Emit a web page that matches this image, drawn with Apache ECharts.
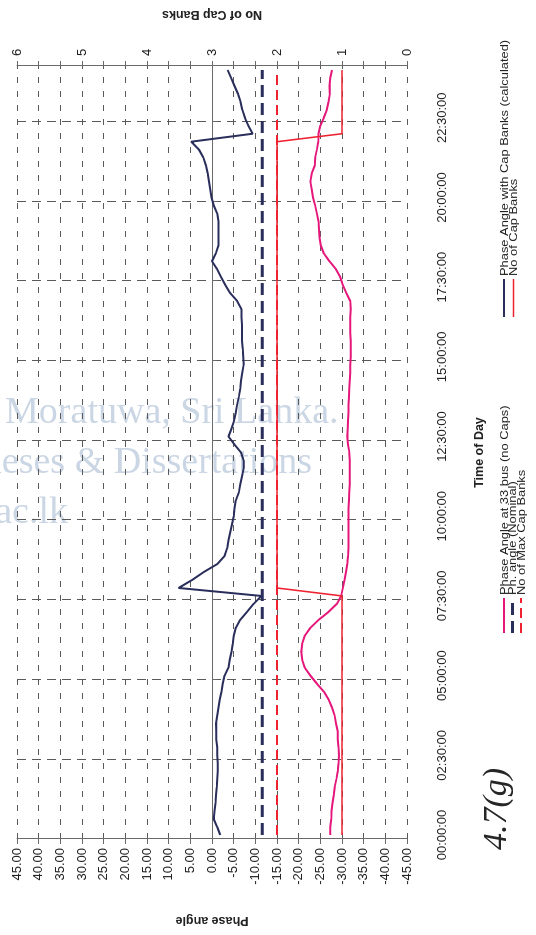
<!DOCTYPE html>
<html>
<head>
<meta charset="utf-8">
<script src="https://cdn.jsdelivr.net/npm/echarts@6/dist/echarts.min.js"></script>
<style>
  html, body { margin: 0; padding: 0; background: #ffffff; overflow: hidden; }
  body { width: 536px; height: 935px; position: relative; }
  /* the chart is laid out in landscape and turned a quarter turn to stand on the page */
  #chart {
    position: absolute; left: 0; top: 0;
    width: 935px; height: 536px;
    transform-origin: 0 0;
    transform: translateY(935px) rotate(-90deg);
  }
</style>
</head>
<body>
<div id="chart"></div>
<script>
// 15-minute samples over the day, 00:00 to 24:00
var times = [];
for (var m = 0; m <= 24 * 60; m += 15) {
  var h = Math.floor(m / 60) % 24, mm = m % 60;
  times.push((h < 10 ? '0' : '') + h + ':' + (mm < 10 ? '0' : '') + mm + ':00');
}

// phase angle at the 33 kV bus without capacitor banks (degrees)
var phaseNoCaps = [
  -27.3, -27.3, -27.5, -27.6, -27.8, -28.1, -28.3, -28.7, -29.0, -29.2,
  -29.3, -29.2, -29.0, -29.0, -28.6, -28.3, -27.7, -26.9, -25.8, -24.2,
  -22.7, -21.4, -20.8, -20.6, -20.8, -21.4, -22.7, -24.6, -26.9, -28.8,
  -29.8, -30.2, -30.6, -30.9, -31.2, -31.4, -31.5, -31.5, -31.5, -31.5,
  -31.5, -31.5, -31.6, -31.7, -31.8, -31.8, -31.8, -31.8, -31.7, -31.4,
  -31.2, -31.3, -31.4, -31.5, -31.5, -31.6, -31.7, -31.8, -31.9, -31.9,
  -32.0, -32.0, -32.0, -31.9, -31.9, -31.9, -32.0, -31.9, -31.0, -30.2,
  -29.6, -28.6, -27.1, -25.8, -25.1, -24.8, -24.7, -24.6, -24.2, -23.8,
  -23.3, -23.0, -22.7, -23.0, -23.7, -23.8, -24.2, -24.5, -24.6, -25.0,
  -25.8, -26.5, -26.9, -27.2, -27.1, -27.3, -27.7
];

// phase angle with the switched capacitor banks (calculated, degrees)
var phaseWithCaps = [
  -1.9, -1.2, -0.4, -0.6, -0.8, -0.9, -1.1, -1.2, -1.3, -1.3,
  -1.2, -1.2, -1.0, -1.0, -0.9, -1.2, -1.5, -1.8, -2.2, -2.5,
  -2.9, -3.8, -4.1, -4.5, -4.8, -5.0, -5.5, -6.5, -8.1, -9.6,
  -11.4, 7.7, 4.6, 1.9, -1.2, -2.9, -3.5, -3.8, -4.2, -4.6,
  -5.0, -5.2, -5.5, -6.2, -6.5, -6.9, -7.3, -7.3, -6.7, -5.2,
  -3.8, -4.5, -5.1, -5.5, -5.8, -6.2, -6.5, -6.7, -7.0, -7.3,
  -7.2, -7.1, -6.9, -6.9, -6.9, -6.8, -6.8, -5.8, -4.2, -3.1,
  -2.1, -1.2, 0.0, -0.9, -1.5, -1.5, -1.5, -1.5, -1.2, -0.4,
  0.1, 0.4, 0.7, 1.0, 1.4, 2.0, 3.0, 4.8, -9.4, -8.4,
  -7.6, -7.0, -6.6, -6.0, -5.2, -4.4, -3.6
];

// number of capacitor banks in service
var capBanks = [
  1, 1, 1, 1, 1, 1, 1, 1, 1, 1,
  1, 1, 1, 1, 1, 1, 1, 1, 1, 1,
  1, 1, 1, 1, 1, 1, 1, 1, 1, 1,
  1, 2, 2, 2, 2, 2, 2, 2, 2, 2,
  2, 2, 2, 2, 2, 2, 2, 2, 2, 2,
  2, 2, 2, 2, 2, 2, 2, 2, 2, 2,
  2, 2, 2, 2, 2, 2, 2, 2, 2, 2,
  2, 2, 2, 2, 2, 2, 2, 2, 2, 2,
  2, 2, 2, 2, 2, 2, 2, 2, 1, 1,
  1, 1, 1, 1, 1, 1, 1
];

// constant reference levels
var nominalAngle = -11.6;   // degrees
var maxCapBanks = 2;

var nominalSeries = times.map(function () { return nominalAngle; });
var maxCapSeries = times.map(function () { return maxCapBanks; });

// series names
var NAME_NOCAPS = 'Phase Angle at 33 bus (no Caps)';
var NAME_NOMINAL = 'Ph. angle (Nominal)';
var NAME_MAXCAP = 'No of Max Cap Banks';
var NAME_WITHCAPS = 'Phase Angle with Cap Banks (calculated)';
var NAME_CAPS = 'No of Cap Banks';

// faint library watermark lines printed across the page
var watermarkLines = [
  'University of Moratuwa, Sri Lanka.',
  'Electronic Theses & Dissertations',
  'www.lib.mrt.ac.lk'
];

var FONT = '"Liberation Sans", Arial, sans-serif';
var SERIF = '"Liberation Serif", "DejaVu Serif", serif';
var PINK = '#e5177b', NAVY = '#2a2e5b', RED = '#ef2330';
var AXIS = '#6a6a6a', GRID = '#5a5a5a';

var styles = {};
styles[NAME_NOCAPS] = { color: PINK, width: 2, dash: null };
styles[NAME_NOMINAL] = { color: NAVY, width: 3, dash: [12, 6] };
styles[NAME_MAXCAP] = { color: RED, width: 2, dash: [10, 5] };
styles[NAME_WITHCAPS] = { color: NAVY, width: 2, dash: null };
styles[NAME_CAPS] = { color: RED, width: 1.6, dash: null };

var chart = echarts.init(document.getElementById('chart'), null, { renderer: 'canvas' });

var titleText = { fontFamily: FONT, fontSize: 12.5, fontWeight: 'bold', color: '#222' };

// legend rows: a short stroke in the series style followed by its name,
// packed tightly in two columns with slightly widened lettering
function legendRow(name, x, y, len) {
  var s = styles[name];
  return {
    type: 'group', x: x, y: y, silent: true,
    children: [
      {
        type: 'line',
        shape: { x1: 0, y1: 0, x2: len, y2: 0 },
        style: { stroke: s.color, lineWidth: s.width, lineDash: s.dash }
      },
      {
        type: 'text',
        x: len + 3, y: 0.5, scaleX: 1.17,
        style: {
          text: name, font: '11px ' + FONT, fill: '#222',
          textAlign: 'left', verticalAlign: 'middle'
        }
      }
    ]
  };
}

// watermark runs across the upright page, so it is turned a quarter turn clockwise here
var watermarkGraphics = watermarkLines.map(function (line, i) {
  return {
    type: 'text',
    x: 522 - i * 50, y: -206,
    rotation: -Math.PI / 2,
    z: -10,
    silent: true,
    style: {
      text: line,
      font: '38px ' + SERIF,
      fill: '#cbd6e4',
      textAlign: 'left',
      verticalAlign: 'middle'
    }
  };
});

var seriesList = [
  { name: NAME_NOCAPS, yAxisIndex: 0, data: phaseNoCaps, z: 3 },
  { name: NAME_NOMINAL, yAxisIndex: 0, data: nominalSeries, z: 2 },
  { name: NAME_MAXCAP, yAxisIndex: 1, data: maxCapSeries, z: 2 },
  { name: NAME_WITHCAPS, yAxisIndex: 0, data: phaseWithCaps, z: 4 },
  { name: NAME_CAPS, yAxisIndex: 1, data: capBanks, z: 3 }
].map(function (d) {
  var s = styles[d.name];
  return {
    name: d.name, type: 'line', yAxisIndex: d.yAxisIndex, data: d.data,
    symbol: 'none', smooth: false, z: d.z,
    lineStyle: { color: s.color, width: s.width, type: s.dash || 'solid' },
    itemStyle: { color: s.color }
  };
});

chart.setOption({
  animation: false,
  backgroundColor: '#ffffff',
  textStyle: { fontFamily: FONT },
  grid: { left: 89, top: 17, width: 790, height: 390, containLabel: false },
  xAxis: {
    type: 'category',
    data: times,
    boundaryGap: true,
    name: 'Time of Day',
    nameLocation: 'middle',
    nameGap: 66,
    nameTextStyle: titleText,
    axisLine: { show: true, lineStyle: { color: AXIS, width: 1 } },
    axisTick: { show: true, interval: 9, length: 5, lineStyle: { color: AXIS } },
    axisLabel: { interval: 9, margin: 29, fontSize: 13, color: '#222', fontFamily: FONT },
    splitLine: { show: true, interval: 9, lineStyle: { color: GRID, width: 1, type: [9, 6] } }
  },
  yAxis: [
    {
      type: 'value',
      position: 'left',
      min: -45, max: 45, interval: 5,
      name: 'Phase angle',
      nameLocation: 'middle',
      nameRotate: 90,
      nameGap: 75,
      nameTextStyle: titleText,
      axisLine: { show: true, lineStyle: { color: AXIS } },
      axisTick: { show: true, length: 5, lineStyle: { color: AXIS } },
      axisLabel: {
        margin: 9, fontSize: 13, color: '#222', fontFamily: FONT,
        formatter: function (v) { return v.toFixed(2); }
      },
      splitLine: { show: true, lineStyle: { color: GRID, width: 1, type: [6, 8] } }
    },
    {
      type: 'value',
      position: 'right',
      min: 0, max: 6, interval: 1,
      name: 'No of Cap Banks',
      nameLocation: 'middle',
      nameRotate: 90,
      nameGap: 45,
      nameTextStyle: titleText,
      axisLine: { show: true, lineStyle: { color: AXIS } },
      axisTick: { show: true, length: 5, lineStyle: { color: AXIS } },
      minorTick: { show: true, splitNumber: 3, length: 5, lineStyle: { color: AXIS } },
      axisLabel: { margin: 10, fontSize: 13, color: '#222', fontFamily: FONT },
      splitLine: { show: false }
    }
  ],
  graphic: watermarkGraphics.concat([
    legendRow(NAME_NOCAPS, 302, 504, 35),
    legendRow(NAME_NOMINAL, 302, 512.5, 35),
    legendRow(NAME_MAXCAP, 302, 521, 35),
    legendRow(NAME_WITHCAPS, 618, 504, 38),
    legendRow(NAME_CAPS, 618, 513.5, 38),
    {
      type: 'text',
      left: 85, top: 480,
      style: {
        text: '4.7(g)',
        font: 'italic 34px ' + SERIF,
        fill: '#262626'
      }
    }
  ]),
  series: seriesList
});
</script>
</body>
</html>
